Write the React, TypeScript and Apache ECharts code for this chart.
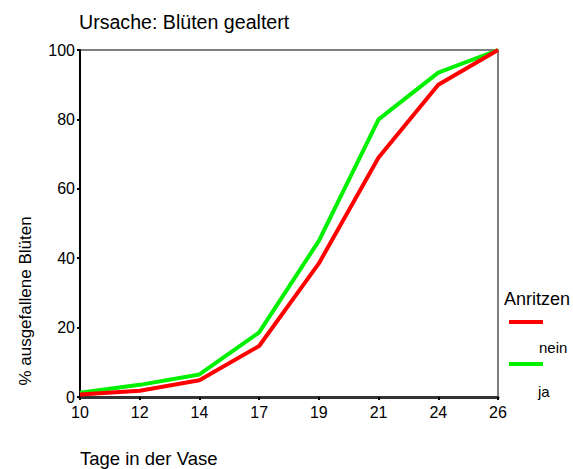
import React, { useEffect, useRef } from "react";
import * as echarts from "echarts";

const categories = ["10", "12", "14", "17", "19", "21", "24", "26"];
const nein = [0.7, 1.8, 4.8, 14.7, 38.5, 69, 90, 100];
const ja = [1.2, 3.5, 6.5, 18.6, 45, 80, 93.5, 100];
const yTicks = { min: 0, max: 100, interval: 20 };
const legendTitle = "Anritzen";
const legendLabels = ["nein", "ja"];
const colors = { nein: "#ff0000", ja: "#00f000" };

const FONT = "'Liberation Sans', Arial, sans-serif";

function txt(text: string, x: number, y: number, size: number, extra: any = {}) {
  return {
    type: "text",
    x,
    y,
    ...extra,
    style: {
      text,
      fill: "#000",
      fontSize: size,
      fontFamily: FONT,
      textAlign: extra.align || "left",
      textVerticalAlign: "middle",
    },
  };
}

export default function App() {
  const ref = useRef<HTMLDivElement>(null);
  useEffect(() => {
    if (!ref.current) return;
    const chart = echarts.init(ref.current, undefined, { renderer: "svg" });
    chart.setOption({
      animation: false,
      backgroundColor: "#ffffff",
      textStyle: { fontFamily: FONT },
      grid: {
        left: 80,
        right: 75,
        top: 50,
        bottom: 72,
        show: true,
        borderColor: "#555555",
        borderWidth: 1.5,
        containLabel: false,
      },
      xAxis: {
        type: "category",
        data: categories,
        boundaryGap: false,
        axisLine: { show: true, lineStyle: { color: "#333333", width: 3 } },
        axisTick: { show: true, alignWithLabel: true, length: 3, lineStyle: { color: "#000", width: 2 } },
        axisLabel: { color: "#000", fontSize: 16, margin: 7, fontFamily: FONT },
        splitLine: { show: false },
      },
      yAxis: {
        type: "value",
        min: yTicks.min,
        max: yTicks.max,
        interval: yTicks.interval,
        axisLine: { show: true, lineStyle: { color: "#000", width: 2 } },
        axisTick: { show: true, length: 3, lineStyle: { color: "#000", width: 2 } },
        axisLabel: { color: "#000", fontSize: 16, margin: 5, fontFamily: FONT },
        splitLine: { show: false },
      },
      series: [
        {
          name: legendLabels[1],
          type: "line",
          data: ja,
          symbol: "none",
          lineStyle: { color: colors.ja, width: 4 },
          itemStyle: { color: colors.ja },
        },
        {
          name: legendLabels[0],
          type: "line",
          data: nein,
          symbol: "none",
          lineStyle: { color: colors.nein, width: 4 },
          itemStyle: { color: colors.nein },
        },
      ],
      graphic: [
        txt("Ursache: Blüten gealtert", 79, 22, 19.6),
        txt("Tage in der Vase", 80, 458, 18.5),
        txt("% ausgefallene Blüten", 25, 301, 17, { rotation: Math.PI / 2, align: "center" }),
        txt(legendTitle, 504, 299, 18),
        {
          type: "line",
          shape: { x1: 509, y1: 322, x2: 543, y2: 322 },
          style: { stroke: colors.nein, lineWidth: 4 },
        },
        txt(legendLabels[0], 539, 347, 15),
        {
          type: "line",
          shape: { x1: 509, y1: 364, x2: 543, y2: 364 },
          style: { stroke: colors.ja, lineWidth: 4 },
        },
        txt(legendLabels[1], 538, 391, 15),
      ],
    });
    return () => chart.dispose();
  }, []);
  return (
    <div
      ref={ref}
      style={{ position: "absolute", left: 0, top: 0, width: 573, height: 469, background: "#fff" }}
    />
  );
}
